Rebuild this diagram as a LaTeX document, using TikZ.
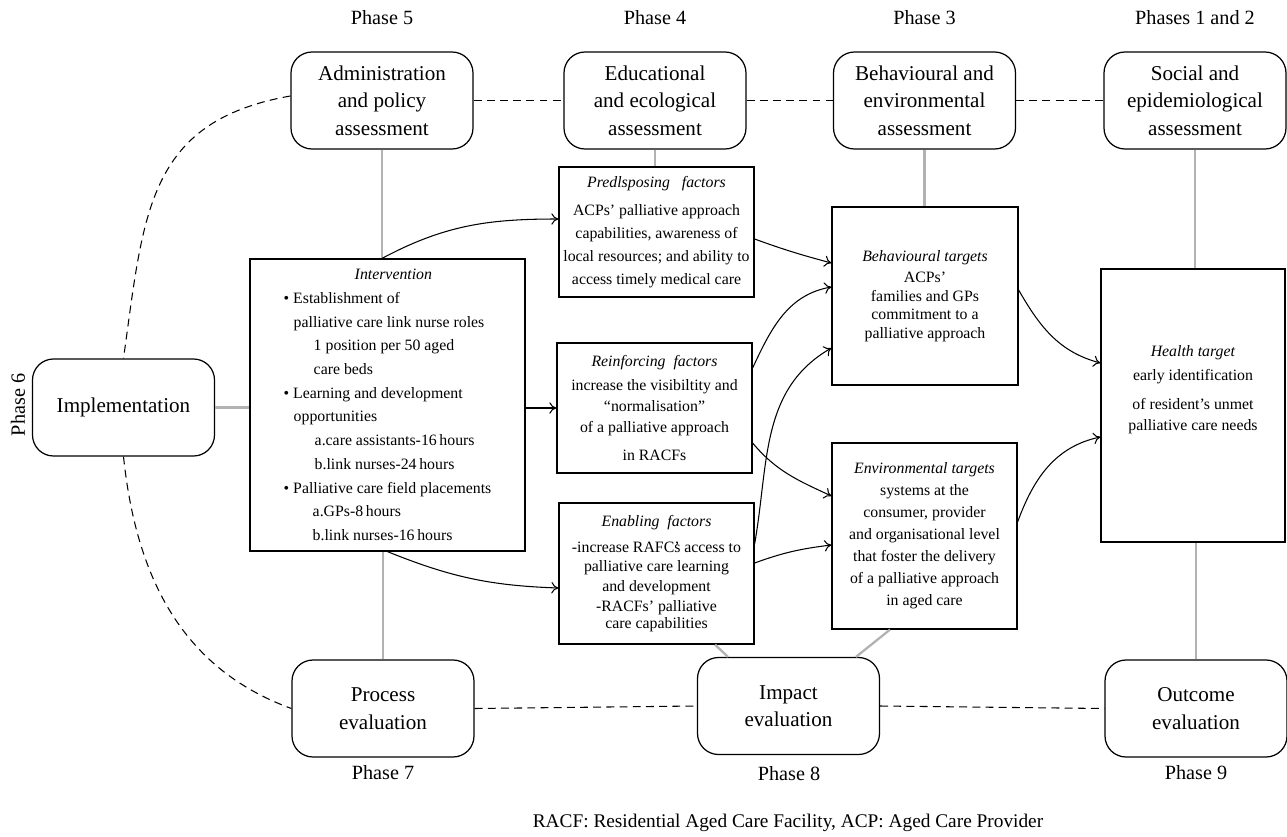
\documentclass[tikz,border=0pt]{standalone}
\usepackage{fontspec}
\setmainfont{Liberation Serif}
\usetikzlibrary{arrows.meta}

\begin{document}
\begin{tikzpicture}[
    >={To[length=4pt,width=6.5pt]},
    rbox/.style={draw,rounded corners=0.42cm,line width=0.7pt,minimum width=3.64cm,minimum height=1.94cm,align=center,font=\fontsize{12}{15.6}\selectfont},
    sbox/.style={draw,line width=0.7pt,align=center,inner sep=2pt},
    phase/.style={font=\fontsize{11.5}{14}\selectfont},
    gline/.style={draw=black!30,line width=1.3pt},
    dline/.style={dash pattern=on 4.5pt off 3pt,line width=0.6pt},
    arr/.style={->,line width=0.6pt}]
    \useasboundingbox (0,0) rectangle (25.74,-16.74);
    \node[phase] (ph5) at (7.64,-0.36) {Phase 5};
    \node[phase] (ph4) at (13.10,-0.36) {Phase 4};
    \node[phase] (ph3) at (18.49,-0.36) {Phase 3};
    \node[phase] (ph12) at (23.90,-0.36) {Phases 1 and 2};
    \node[phase,rotate=90] (ph6) at (0.36,-8.10) {Phase 6};
    \node[phase] (ph7) at (7.66,-15.46) {Phase 7};
    \node[phase] (ph8) at (15.78,-15.48) {Phase 8};
    \node[phase] (ph9) at (23.92,-15.46) {Phase 9};
    \node[rbox] (adm) at (7.64,-2.01) {Administration\\and policy\\assessment};
    \node[rbox] (edu) at (13.10,-2.01) {Educational\\and ecological\\assessment};
    \node[rbox] (beh) at (18.49,-2.01) {Behavioural and\\environmental\\assessment};
    \node[rbox] (soc) at (23.90,-2.01) {Social and\\epidemiological\\assessment};
    \node[rbox] (impl) at (2.47,-8.15) {Implementation};
    \node[rbox] (proc) at (7.66,-14.17) {Process\\evaluation};
    \node[rbox] (impc) at (15.77,-14.12) {Impact\\evaluation};
    \node[rbox] (outc) at (23.92,-14.17) {Outcome\\evaluation};
    \node[sbox,align=left,minimum width=5.5cm,minimum height=5.84cm,font=\fontsize{9}{13.5}\selectfont] (int) at (7.75,-8.10) {\hspace*{1.42cm}\textit{Intervention}\\
        \textbullet\ Establishment of\\
        \hspace*{0.2cm}palliative care link nurse roles\\
        \hspace*{0.6cm}1 position per 50 aged\\
        \hspace*{0.6cm}care beds\\
        \textbullet\ Learning and development\\
        \hspace*{0.2cm}opportunities\\
        \hspace*{0.62cm}a.care assistants-16\,hours\\
        \hspace*{0.62cm}b.link nurses-24\,hours\\
        \textbullet\ Palliative care field placements\\
        \hspace*{0.58cm}a.GPs-8\,hours\\
        \hspace*{0.58cm}b.link nurses-16\,hours};
    \node[sbox,minimum width=3.9cm,minimum height=2.6cm,font=\fontsize{9}{13}\selectfont] (pre) at (13.13,-4.64) {\textit{Predlsposing\ \ \ factors}\\[3pt]ACPs’ palliative approach\\capabilities, awareness of\\local resources; and ability to\\access timely medical care};
    \node[sbox,minimum width=3.9cm,minimum height=2.6cm,font=\fontsize{9}{12}\selectfont] (rei) at (13.09,-8.16) {\textit{Reinforcing\ \ factors}\\[2pt]increase the visibiltity and\\“normalisation”\\of a palliative approach\\[4pt]in RACFs};
    \node[sbox,minimum width=3.9cm,minimum height=2.82cm,font=\fontsize{9}{10.5}\selectfont] (ena) at (13.13,-11.47) {\textit{Enabling\ \ factors}\\[4.5pt]-increase RAFC\rlap{’}s access to\\palliative care learning\\[1pt]and development\\[1pt]-RACFs’ palliative\\[-1pt]care capabilities};
    \node[sbox,minimum width=3.72cm,minimum height=3.56cm,font=\fontsize{9}{10.5}\selectfont] (btg) at (18.50,-5.92) {\textit{Behavioural targets}\\[1.5pt]ACPs’\\families and GPs\\commitment to a\\palliative approach};
    \node[sbox,minimum width=3.7cm,minimum height=3.72cm,font=\fontsize{9}{12.5}\selectfont] (env) at (18.49,-10.72) {\textit{Environmental targets}\\systems at the\\consumer, provider\\and organisational level\\that foster the delivery\\of a palliative approach\\in aged care};
    \node[sbox,minimum width=3.68cm,minimum height=5.46cm,text depth=0.69cm,font=\fontsize{9}{12}\selectfont] (htg) at (23.86,-8.11) {\textit{Health target}\\[1.5pt]early identification\\[4.5pt]of resident’s unmet\\palliative care needs};
    \node[font=\fontsize{11}{13}\selectfont] (note) at (15.76,-16.46) {RACF: Residential Aged Care Facility, ACP: Aged Care Provider};
    \draw[gline] (adm.south) -- (adm.south |- int.north);
    \draw[gline] (edu.south) -- (edu.south |- pre.north);
    \draw[gline] (beh.south) -- (beh.south |- btg.north);
    \draw[gline] (soc.south) -- (soc.south |- htg.north);
    \draw[gline] (impl.east) -- (impl.east -| int.west);
    \draw[gline] (proc.north) -- (proc.north |- int.south);
    \draw[gline] ([xshift=1.17cm]ena.south) -- ([xshift=-1.21cm]impc.north);
    \draw[gline] ([xshift=-0.69cm]env.south) -- ([xshift=1.35cm]impc.north);
    \draw[gline] (outc.north) -- (outc.north |- htg.south);
    \draw[dline] (adm.east) -- (edu.west);
    \draw[dline] (edu.east) -- (beh.west);
    \draw[dline] (beh.east) -- (soc.west);
    \draw[dline] (proc.east) -- (impc.west);
    \draw[dline] (impc.east) -- (outc.west);
    \draw[dline] ([yshift=0.09cm]adm.west) to[out=190,in=82,looseness=1.2] (impl.north);
    \draw[dline] (impl.south) to[out=-84,in=160] (proc.west);
    \draw[arr] ([xshift=-0.11cm]int.north) to[out=28,in=180] ([yshift=0.26cm]pre.west);
    \draw[arr] (int.east |- rei.west) -- (rei.west);
    \draw[arr] (int.south) to[out=-22,in=178] ([yshift=-0.29cm]ena.west);
    \draw[arr] ([yshift=-0.14cm]pre.east) to[out=-20,in=165] ([yshift=0.66cm]btg.west);
    \draw[arr] ([yshift=0.80cm]rei.east) to[out=65,in=190] ([yshift=0.18cm]btg.west);
    \draw[arr] ([yshift=0.59cm]ena.east) to[out=80,in=210] ([yshift=-1.04cm]btg.west);
    \draw[arr] ([yshift=-0.70cm]rei.east) to[out=-50,in=155] ([yshift=0.80cm]env.west);
    \draw[arr] ([yshift=0.21cm]ena.east) to[out=20,in=187] ([yshift=-0.18cm]env.west);
    \draw[arr] ([yshift=0.12cm]btg.east) to[out=-60,in=165] ([yshift=0.85cm]htg.west);
    \draw[arr] ([yshift=0.28cm]env.east) to[out=70,in=192] ([yshift=-0.63cm]htg.west);
\end{tikzpicture}
\end{document}
